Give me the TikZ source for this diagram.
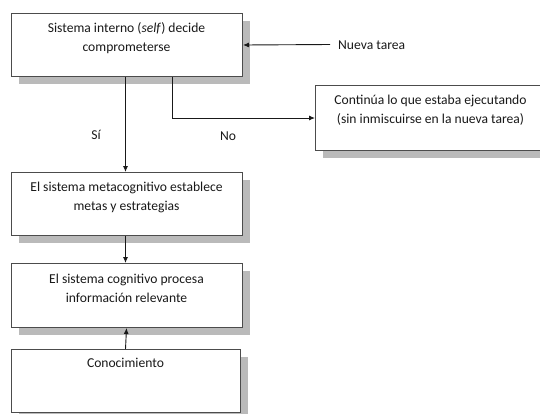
\documentclass[tikz,border=0pt]{standalone}
\usepackage{fontspec}
\setmainfont{Carlito}
\usetikzlibrary{arrows.meta,shadows}
\begin{document}
\begin{tikzpicture}[x=1pt,y=-1pt,
  flowbox/.style={draw=black!70, line width=1pt, fill=white, rectangle, anchor=north west, inner sep=0pt,
    drop shadow={shadow xshift=7pt, shadow yshift=-7pt, fill=black!27, opacity=1}},
  boxtext/.style={align=center, font=\fontsize{13.6}{19}\selectfont, text=black!90, inner sep=0pt, anchor=north},
  plain/.style={font=\fontsize{13.6}{15}\selectfont, text=black!90, inner sep=0pt},
  link/.style={draw=black!90, line width=0.9pt},
  arrowlink/.style={link, -{Latex[length=6pt,width=5pt]}}]
  \useasboundingbox (0,0) rectangle (540,413);
  \begin{scope}
  \clip (0,0) rectangle (540,413);
  % boxes
  \node[flowbox, minimum width=231pt, minimum height=63pt] (self) at (11,13) {};
  \node[flowbox, minimum width=230pt, minimum height=65pt] (cont) at (315,85) {};
  \node[flowbox, minimum width=231pt, minimum height=63pt] (meta) at (11,172) {};
  \node[flowbox, minimum width=231pt, minimum height=64pt] (cog) at (11,263) {};
  \node[flowbox, minimum width=229pt, minimum height=63pt] (know) at (11,349) {};
  \end{scope}
  % box texts
  \node[boxtext] (selft) at (126.5,22.5) {Sistema interno (\textit{self}) decide\\comprometerse};
  \node[boxtext] (contt) at (430.5,94.5) {Continúa lo que estaba ejecutando\\(sin inmiscuirse en la nueva tarea)};
  \node[boxtext] (metat) at (126.5,181.5) {El sistema metacognitivo establece\\metas y estrategias};
  \node[boxtext] (cogt) at (126.5,273.5) {El sistema cognitivo procesa\\información relevante};
  \node[boxtext] (knowt) at (125.5,358) {Conocimiento};
  % incoming task
  \coordinate (nt) at (330,44.5);
  \node[plain, anchor=west] (ntl) at (338,45) {Nueva tarea};
  \draw[arrowlink] (nt) -- (self.east);
  % decision branches
  \draw[arrowlink] ([xshift=-1.5pt]self.south) -- ([xshift=-1.5pt]meta.north);
  \draw[arrowlink] ([xshift=45.5pt]self.south) |- (cont.west);
  \node[plain] (si) at (96,135) {Sí};
  \node[plain] (no) at (228,136) {No};
  % downward flow
  \draw[arrowlink] ([xshift=-1.5pt]meta.south) -- ([xshift=-1.5pt]cog.north);
  \draw[arrowlink] ([xshift=-0.5pt]know.north) -- ([xshift=-0.5pt]cog.south);
\end{tikzpicture}
\end{document}
